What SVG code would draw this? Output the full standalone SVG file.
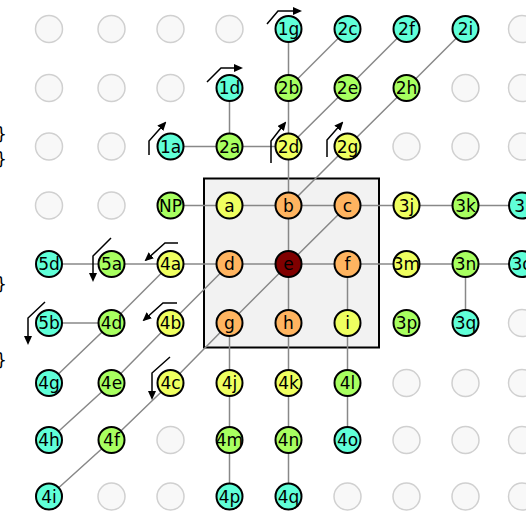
<svg xmlns="http://www.w3.org/2000/svg" width="526" height="512" viewBox="0 0 526 512">
<defs>
<style>
.g{fill:#f8f8f8;stroke:#d0d0d0;stroke-width:1.5}
.n circle{stroke:#000;stroke-width:2}
.cy circle{fill:#60ffd8}
.gr circle{fill:#a8ff60}
.ye circle{fill:#efff60}
.or circle{fill:#ffb460}
.dr circle{fill:#800000}
text{font-family:"DejaVu Sans",sans-serif;font-size:17px;text-anchor:middle;fill:#000}
.con line,.con polyline{stroke:#888;stroke-width:1.5;fill:none}
.arr path{stroke:#000;stroke-width:1.5;fill:none;marker-end:url(#ah)}
.br{text-anchor:start;font-size:17px}
</style>
<marker id="ah" markerUnits="userSpaceOnUse" markerWidth="9" markerHeight="8" refX="7" refY="4" orient="auto">
<path d="M0,0 L9,4 L0,8 z" fill="#000"/>
</marker>
</defs>
<rect width="526" height="512" fill="#fff"/>
<!-- braces at left edge -->
<text class="br" x="-4" y="140">}</text>
<text class="br" x="-4" y="165">}</text>
<text class="br" x="-4" y="290">}</text>
<text class="br" x="-4" y="366">}</text>
<!-- empty grid slots -->
<g id="empty">
<circle class="g" cx="49" cy="29" r="13.5"/><circle class="g" cx="111.5" cy="29" r="13.5"/><circle class="g" cx="170.5" cy="29" r="13.5"/><circle class="g" cx="229.5" cy="29" r="13.5"/><circle class="g" cx="522" cy="29" r="13.5"/>
<circle class="g" cx="49" cy="88" r="13.5"/><circle class="g" cx="111.5" cy="88" r="13.5"/><circle class="g" cx="170.5" cy="88" r="13.5"/><circle class="g" cx="465.5" cy="88" r="13.5"/><circle class="g" cx="522" cy="88" r="13.5"/>
<circle class="g" cx="49" cy="146.5" r="13.5"/><circle class="g" cx="111.5" cy="146.5" r="13.5"/><circle class="g" cx="406.5" cy="146.5" r="13.5"/><circle class="g" cx="465.5" cy="146.5" r="13.5"/><circle class="g" cx="522" cy="146.5" r="13.5"/>
<circle class="g" cx="49" cy="205.5" r="13.5"/><circle class="g" cx="111.5" cy="205.5" r="13.5"/>
<circle class="g" cx="522" cy="323" r="13.5"/>
<circle class="g" cx="406.5" cy="383" r="13.5"/><circle class="g" cx="465.5" cy="383" r="13.5"/><circle class="g" cx="522" cy="383" r="13.5"/>
<circle class="g" cx="170.5" cy="440" r="13.5"/><circle class="g" cx="406.5" cy="440" r="13.5"/><circle class="g" cx="465.5" cy="440" r="13.5"/><circle class="g" cx="522" cy="440" r="13.5"/>
<circle class="g" cx="111.5" cy="496.5" r="13.5"/><circle class="g" cx="170.5" cy="496.5" r="13.5"/><circle class="g" cx="347.5" cy="496.5" r="13.5"/><circle class="g" cx="406.5" cy="496.5" r="13.5"/><circle class="g" cx="465.5" cy="496.5" r="13.5"/><circle class="g" cx="522" cy="496.5" r="13.5"/>
</g>
<rect id="box" x="204" y="178.5" width="175" height="169" fill="#f2f2f2" stroke="#000" stroke-width="2"/>
<g id="connectors" class="con">
<line x1="170.5" y1="146.5" x2="288.5" y2="146.5"/>
<line x1="170.5" y1="205.5" x2="522" y2="205.5"/>
<line x1="49" y1="264" x2="522" y2="264"/>
<line x1="49" y1="323" x2="111.5" y2="323"/>
<line x1="229.5" y1="88" x2="229.5" y2="146.5"/>
<line x1="229.5" y1="323" x2="229.5" y2="496.5"/>
<line x1="288.5" y1="29" x2="288.5" y2="496.5"/>
<line x1="347.5" y1="264" x2="347.5" y2="440"/>
<line x1="465.5" y1="264" x2="465.5" y2="323"/>
<polyline points="347.5,29 288.5,88"/>
<polyline points="406.5,29 347.5,88 288.5,146.5"/>
<polyline points="465.5,29 406.5,88 347.5,146.5 288.5,205.5"/>
<polyline points="347.5,205.5 288.5,264 229.5,323 170.5,383 111.5,440 49,496.5"/>
<polyline points="229.5,264 170.5,323 111.5,383 49,440"/>
<polyline points="170.5,264 111.5,323 49,383"/>
</g>
<g id="arrows" class="arr">
<path d="M267,24 L278,11 L300,11"/>
<path d="M207,82 L221,68 L241,68"/>
<path d="M149,155 L149,141 L165,123"/>
<path d="M271,163 L271,141 L285,123"/>
<path d="M327,157 L327,140 L342,123"/>
<path d="M111,238 L93,256 L93,280"/>
<path d="M178,243 L165,243 L146,260"/>
<path d="M45,302 L28,318 L28,343"/>
<path d="M177,303 L163,303 L144,320"/>
<path d="M170,357 L152,373 L152,398"/>
</g>
<g id="n1g" class="n cy"><circle cx="288.5" cy="29" r="13"/><text x="288.5" y="35">1g</text></g>
<g id="n2c" class="n cy"><circle cx="347.5" cy="29" r="13"/><text x="347.5" y="35">2c</text></g>
<g id="n2f" class="n cy"><circle cx="406.5" cy="29" r="13"/><text x="406.5" y="35">2f</text></g>
<g id="n2i" class="n cy"><circle cx="465.5" cy="29" r="13"/><text x="465.5" y="35">2i</text></g>
<g id="n1d" class="n cy"><circle cx="229.5" cy="88" r="13"/><text x="229.5" y="94">1d</text></g>
<g id="n2b" class="n gr"><circle cx="288.5" cy="88" r="13"/><text x="288.5" y="94">2b</text></g>
<g id="n2e" class="n gr"><circle cx="347.5" cy="88" r="13"/><text x="347.5" y="94">2e</text></g>
<g id="n2h" class="n gr"><circle cx="406.5" cy="88" r="13"/><text x="406.5" y="94">2h</text></g>
<g id="n1a" class="n cy"><circle cx="170.5" cy="146.5" r="13"/><text x="170.5" y="152.5">1a</text></g>
<g id="n2a" class="n gr"><circle cx="229.5" cy="146.5" r="13"/><text x="229.5" y="152.5">2a</text></g>
<g id="n2d" class="n ye"><circle cx="288.5" cy="146.5" r="13"/><text x="288.5" y="152.5">2d</text></g>
<g id="n2g" class="n ye"><circle cx="347.5" cy="146.5" r="13"/><text x="347.5" y="152.5">2g</text></g>
<g id="nNP" class="n gr"><circle cx="170.5" cy="205.5" r="13"/><text x="170.5" y="211.5">NP</text></g>
<g id="na" class="n ye"><circle cx="229.5" cy="205.5" r="13"/><text x="229.5" y="211.5">a</text></g>
<g id="nb" class="n or"><circle cx="288.5" cy="205.5" r="13"/><text x="288.5" y="211.5">b</text></g>
<g id="nc" class="n or"><circle cx="347.5" cy="205.5" r="13"/><text x="347.5" y="211.5">c</text></g>
<g id="n3j" class="n ye"><circle cx="406.5" cy="205.5" r="13"/><text x="406.5" y="211.5">3j</text></g>
<g id="n3k" class="n gr"><circle cx="465.5" cy="205.5" r="13"/><text x="465.5" y="211.5">3k</text></g>
<g id="n3l" class="n cy"><circle cx="522" cy="205.5" r="13"/><text x="522" y="211.5">3l</text></g>
<g id="n5d" class="n cy"><circle cx="49" cy="264" r="13"/><text x="49" y="270">5d</text></g>
<g id="n5a" class="n gr"><circle cx="111.5" cy="264" r="13"/><text x="111.5" y="270">5a</text></g>
<g id="n4a" class="n ye"><circle cx="170.5" cy="264" r="13"/><text x="170.5" y="270">4a</text></g>
<g id="nd" class="n or"><circle cx="229.5" cy="264" r="13"/><text x="229.5" y="270">d</text></g>
<g id="ne" class="n dr"><circle cx="288.5" cy="264" r="13"/><text x="288.5" y="270">e</text></g>
<g id="nf" class="n or"><circle cx="347.5" cy="264" r="13"/><text x="347.5" y="270">f</text></g>
<g id="n3m" class="n ye"><circle cx="406.5" cy="264" r="13"/><text x="406.5" y="270">3m</text></g>
<g id="n3n" class="n gr"><circle cx="465.5" cy="264" r="13"/><text x="465.5" y="270">3n</text></g>
<g id="n3o" class="n cy"><circle cx="522" cy="264" r="13"/><text x="522" y="270">3o</text></g>
<g id="n5b" class="n cy"><circle cx="49" cy="323" r="13"/><text x="49" y="329">5b</text></g>
<g id="n4d" class="n gr"><circle cx="111.5" cy="323" r="13"/><text x="111.5" y="329">4d</text></g>
<g id="n4b" class="n ye"><circle cx="170.5" cy="323" r="13"/><text x="170.5" y="329">4b</text></g>
<g id="ng" class="n or"><circle cx="229.5" cy="323" r="13"/><text x="229.5" y="329">g</text></g>
<g id="nh" class="n or"><circle cx="288.5" cy="323" r="13"/><text x="288.5" y="329">h</text></g>
<g id="ni" class="n ye"><circle cx="347.5" cy="323" r="13"/><text x="347.5" y="329">i</text></g>
<g id="n3p" class="n gr"><circle cx="406.5" cy="323" r="13"/><text x="406.5" y="329">3p</text></g>
<g id="n3q" class="n cy"><circle cx="465.5" cy="323" r="13"/><text x="465.5" y="329">3q</text></g>
<g id="n4g" class="n cy"><circle cx="49" cy="383" r="13"/><text x="49" y="389">4g</text></g>
<g id="n4e" class="n gr"><circle cx="111.5" cy="383" r="13"/><text x="111.5" y="389">4e</text></g>
<g id="n4c" class="n ye"><circle cx="170.5" cy="383" r="13"/><text x="170.5" y="389">4c</text></g>
<g id="n4j" class="n ye"><circle cx="229.5" cy="383" r="13"/><text x="229.5" y="389">4j</text></g>
<g id="n4k" class="n ye"><circle cx="288.5" cy="383" r="13"/><text x="288.5" y="389">4k</text></g>
<g id="n4l" class="n gr"><circle cx="347.5" cy="383" r="13"/><text x="347.5" y="389">4l</text></g>
<g id="n4h" class="n cy"><circle cx="49" cy="440" r="13"/><text x="49" y="446">4h</text></g>
<g id="n4f" class="n gr"><circle cx="111.5" cy="440" r="13"/><text x="111.5" y="446">4f</text></g>
<g id="n4m" class="n gr"><circle cx="229.5" cy="440" r="13"/><text x="229.5" y="446">4m</text></g>
<g id="n4n" class="n gr"><circle cx="288.5" cy="440" r="13"/><text x="288.5" y="446">4n</text></g>
<g id="n4o" class="n cy"><circle cx="347.5" cy="440" r="13"/><text x="347.5" y="446">4o</text></g>
<g id="n4i" class="n cy"><circle cx="49" cy="496.5" r="13"/><text x="49" y="502.5">4i</text></g>
<g id="n4p" class="n cy"><circle cx="229.5" cy="496.5" r="13"/><text x="229.5" y="502.5">4p</text></g>
<g id="n4q" class="n cy"><circle cx="288.5" cy="496.5" r="13"/><text x="288.5" y="502.5">4q</text></g>
</svg>
